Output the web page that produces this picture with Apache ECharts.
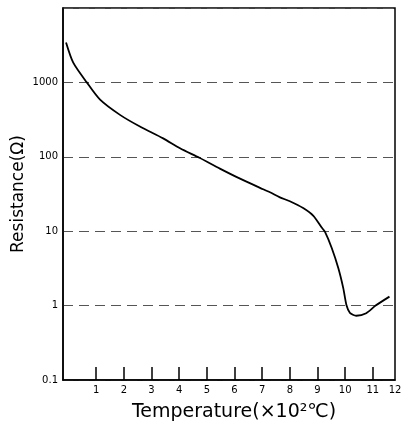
<!DOCTYPE html>
<html><head><meta charset="utf-8">
<script src="https://cdn.jsdelivr.net/npm/echarts@6/dist/echarts.min.js"></script>
<style>html,body{margin:0;padding:0;background:#fff}#c{width:401px;height:426px}</style>
</head><body><div id="c"></div>
<script>
const temps = [-0.09, 0.17, 0.66, 1.14, 1.86, 2.58, 3.42, 4.03, 4.73, 5.47, 6.2, 6.92, 7.28, 7.64, 8.0, 8.48, 8.85, 9.15, 9.27, 9.51, 9.75, 9.93, 10.05, 10.17, 10.4, 10.76, 11.1, 11.6];
const resistance = [3445, 1845, 1000, 586, 366, 255, 177, 130, 97, 69.4, 50.8, 38.3, 33.4, 28.5, 25.3, 20.5, 16.1, 11.2, 9.8, 6.0, 3.2, 1.72, 1.0, 0.80, 0.73, 0.79, 1.0, 1.32];
const xTicks = [1,2,3,4,5,6,7,8,9,10,11];
const xLabels = [1,2,3,4,5,6,7,8,9,10,11,11.8];
const yLabels = [0.1, 1, 10, 100, 1000];

const chart = echarts.init(document.getElementById('c'));
chart.setOption({
  animation:false,
  grid:{left:63,right:6,top:8,bottom:46,show:true,borderColor:'#000',borderWidth:1.5,outerBoundsMode:'none',containLabel:false},
  xAxis:{type:'value',min:-0.2,max:11.8,
    name:'Temperature(×10²℃)',nameLocation:'middle',nameGap:23,
    nameTextStyle:{fontSize:19,color:'#000',fontFamily:'DejaVu Sans',padding:[0,0,0,10]},
    axisLine:{onZero:false,lineStyle:{color:'#000',width:1.5}},
    axisTick:{inside:true,length:13,customValues:xTicks,lineStyle:{color:'#000',width:1.5}},
    axisLabel:{customValues:xLabels,fontSize:10,color:'#000',margin:5,fontFamily:'DejaVu Sans',
      formatter:v=>String(Math.round(v))},
    splitLine:{show:false}},
  yAxis:{type:'log',logBase:10,min:0.1,max:10000,
    name:'Resistance(Ω)',nameLocation:'middle',nameGap:36,nameMoveOverlap:false,
    nameTextStyle:{fontSize:17,color:'#000',fontFamily:'DejaVu Sans'},
    axisLine:{show:true,onZero:false,lineStyle:{color:'#000',width:1.5}},
    axisTick:{show:false},
    axisLabel:{fontSize:10,color:'#000',margin:5,fontFamily:'DejaVu Sans',
      customValues:yLabels,formatter:v=>v<1?'0.1':String(Math.round(v))},
    splitLine:{show:true,lineStyle:{color:'#555',type:[10,6],width:1}}},
  series:[{type:'line',smooth:0.25,symbol:'none',
    data:temps.map((t,i)=>[t,resistance[i]]),
    lineStyle:{color:'#000',width:1.8}}]
});
</script></body></html>
